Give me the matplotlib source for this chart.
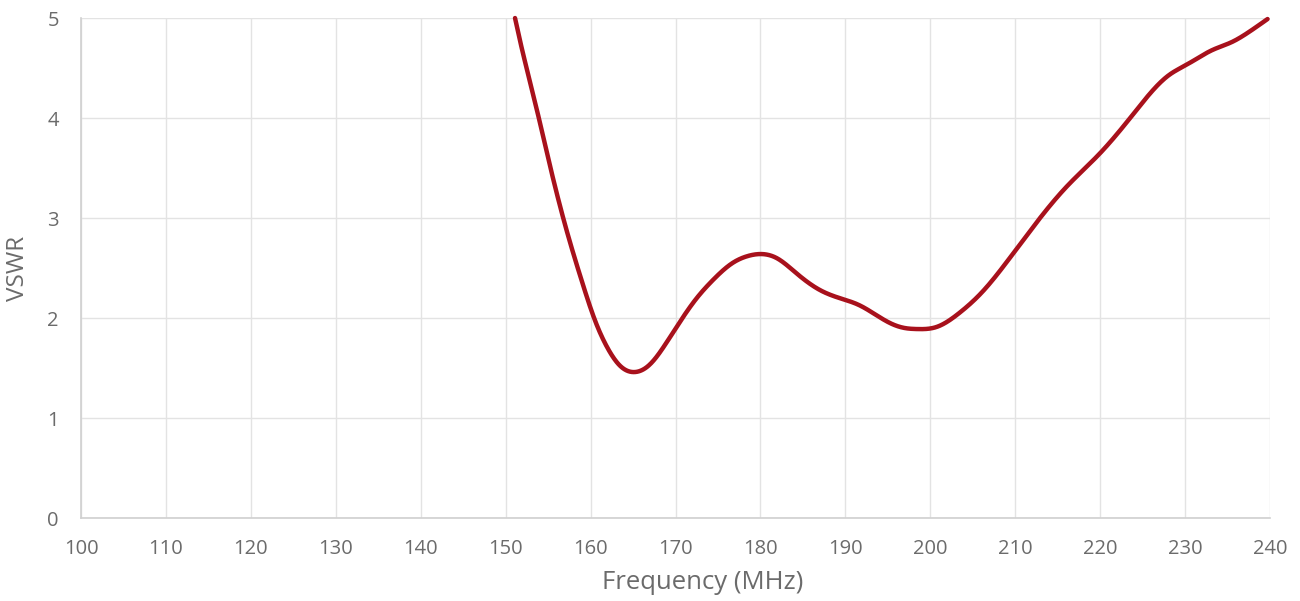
import numpy as np
import matplotlib.pyplot as plt

# VSWR curve
freq = [151.1, 152.0, 153.0, 155.0, 157.0, 159.0, 160.5, 162.0, 163.5, 165.2,
        166.9, 168.9, 170.5, 172.5, 174.4, 176.7, 178.5, 180.0, 181.9, 184.2,
        187.0, 189.3, 191.6, 194.0, 195.5, 197.0, 198.4, 200.7, 203.4, 206.1,
        208.9, 212.0, 216.0, 220.0, 223.8, 228.1, 230.1, 233.2, 235.5, 237.5,
        239.7]
vswr = [5.00, 4.66, 4.32, 3.60, 2.93, 2.36, 1.98, 1.70, 1.52, 1.46,
        1.53, 1.75, 1.96, 2.20, 2.38, 2.55, 2.62, 2.64, 2.60, 2.45,
        2.28, 2.20, 2.13, 2.01, 1.94, 1.90, 1.89, 1.91, 2.05, 2.26,
        2.55, 2.90, 3.31, 3.65, 4.03, 4.43, 4.53, 4.68, 4.76, 4.86,
        4.99]

x_ticks = list(range(100, 241, 10))
y_ticks = [0, 1, 2, 3, 4, 5]

plt.rcParams['font.family'] = ['Open Sans', 'DejaVu Sans']


def natural_spline(x, y, xx):
    # plain natural cubic spline, good enough for a smoothed line
    x = np.asarray(x, float)
    y = np.asarray(y, float)
    n = len(x)
    h = np.diff(x)
    A = np.zeros((n, n))
    b = np.zeros(n)
    A[0, 0] = A[-1, -1] = 1
    for i in range(1, n - 1):
        A[i, i - 1] = h[i - 1]
        A[i, i] = 2 * (h[i - 1] + h[i])
        A[i, i + 1] = h[i]
        b[i] = 3 * ((y[i + 1] - y[i]) / h[i] - (y[i] - y[i - 1]) / h[i - 1])
    c = np.linalg.solve(A, b)
    bb = (y[1:] - y[:-1]) / h - h * (2 * c[:-1] + c[1:]) / 3
    d = (c[1:] - c[:-1]) / (3 * h)
    idx = np.clip(np.searchsorted(x, xx) - 1, 0, n - 2)
    dx = xx - x[idx]
    return y[idx] + bb[idx] * dx + c[idx] * dx ** 2 + d[idx] * dx ** 3


fig = plt.figure(figsize=(13, 6.01), dpi=100)
ax = fig.add_axes([0.0623, 0.138, 0.9147, 0.832])

xx = np.linspace(freq[0], freq[-1], 1200)
ax.plot(xx, natural_spline(freq, vswr, xx), color='#A8111C', lw=3.2,
        solid_capstyle='round', clip_on=False)

ax.set_xlim(100, 240)
ax.set_ylim(0, 5)
ax.set_xticks(x_ticks)
ax.set_yticks(y_ticks)
ax.grid(True, color='#e3e3e3', lw=1.0)
ax.set_axisbelow(True)
for side in ['top', 'right']:
    ax.spines[side].set_visible(False)
for side in ['left', 'bottom']:
    ax.spines[side].set_color('#d0d0d0')
    ax.spines[side].set_linewidth(1.2)
ax.tick_params(length=0, labelsize=14.5, labelcolor='#6b6b6b')
ax.tick_params(axis='x', pad=15)
ax.tick_params(axis='y', pad=16)

ax.set_xlabel('Frequency (MHz)', fontsize=18.5, color='#6b6b6b')
ax.xaxis.set_label_coords(0.523, -0.104)
ax.set_ylabel('VSWR', fontsize=17.5, color='#6b6b6b', labelpad=12)

fig.savefig('out.png', dpi=100, facecolor='white')
